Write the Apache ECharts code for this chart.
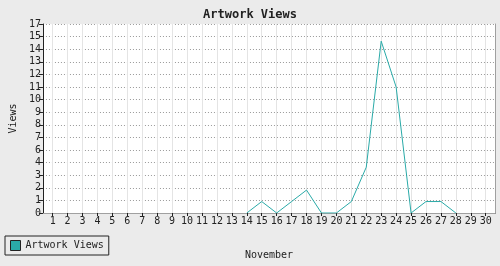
<!DOCTYPE html>
<html>
<head>
<meta charset="utf-8">
<script src="https://cdn.jsdelivr.net/npm/echarts@6/dist/echarts.min.js"></script>
<style>html,body{margin:0;padding:0;background:#ebebeb;}#c{width:500px;height:266px;}</style>
</head>
<body>
<div id="c"></div>
<script>
var days = [1,2,3,4,5,6,7,8,9,10,11,12,13,14,15,16,17,18,19,20,21,22,23,24,25,26,27,28,29,30];
var views = [null,null,null,null,null,null,null,null,null,null,null,null,null,0,1,0,1,2,0,0,1,4,15,11,0,1,1,0,null,null];
var yTickLabels = ['0','1','2','3','4','6','7','8','9','10','11','12','13','14','15','17'];
var seriesName = 'Artwork Views';
var titleText = 'Artwork Views';
var xName = 'November';
var yName = 'Views';

var mono = 'DejaVu Sans Mono';
var data = days.map(function(d, i){ return [d, views[i]]; });
var chart = echarts.init(document.getElementById('c'), null, {renderer:'canvas'});
chart.setOption({
  animation: false,
  backgroundColor: '#ebebeb',
  title: {text: titleText, left: 'center', top: 4, textStyle: {fontFamily: mono, fontSize: 12, fontWeight: 'bold', color: '#222'}},
  grid: {left: 34, right: 5, top: 24, bottom: 53, show: true, backgroundColor: '#ffffff', borderWidth: 0},
  legend: {
    left: 5, top: 236, orient: 'horizontal', padding: [4,5], itemWidth: 10, itemHeight: 10, itemGap: 5,
    borderColor: '#222', borderWidth: 1, icon: 'rect',
    itemStyle: {color: '#2aaaa8', borderColor: '#222', borderWidth: 1},
    textStyle: {fontFamily: mono, fontSize: 10, color: '#222'},
    data: [seriesName]
  },
  xAxis: [{
    type: 'value', min: 0.35, max: 30.62,
    name: xName, nameLocation: 'middle', nameGap: 37,
    nameTextStyle: {fontFamily: mono, fontSize: 10, color: '#222'},
    axisLine: {lineStyle: {color: '#222', width: 1}},
    axisTick: {customValues: days, length: 3, lineStyle: {color: '#222'}},
    axisLabel: {customValues: days, margin: 3, fontFamily: mono, fontSize: 10, color: '#222'},
    splitLine: {show: true, lineStyle: {color: '#e4e4e4', width: 1}}
  }, {
    type: 'value', min: 0, max: 1, position: 'top',
    axisLine: {show: true, lineStyle: {color: '#a0a0a0', width: 1}},
    axisTick: {show: false}, axisLabel: {show: false}, splitLine: {show: false}
  }],
  yAxis: [{
    type: 'value', min: 0, max: 16.5, interval: 1.1,
    name: yName, nameLocation: 'middle', nameGap: 21, nameRotate: 90,
    nameTextStyle: {fontFamily: mono, fontSize: 10, color: '#222'},
    axisLine: {show: true, lineStyle: {color: '#222', width: 1}},
    axisTick: {show: true, length: 4, lineStyle: {color: '#222'}},
    axisLabel: {margin: 2, fontFamily: mono, fontSize: 10, color: '#222',
      formatter: function(v){ return yTickLabels[Math.round(v / 1.1)]; }},
    splitLine: {show: true, lineStyle: {color: '#999', width: 1, type: [1,2]}}
  }, {
    type: 'value', min: 0, max: 1, position: 'right',
    axisLine: {show: true, lineStyle: {color: '#a0a0a0', width: 1}},
    axisTick: {show: false}, axisLabel: {show: false}, splitLine: {show: false}
  }],
  series: [{
    name: seriesName, type: 'line', data: data, showSymbol: false, symbol: 'none',
    connectNulls: false, xAxisIndex: 0, yAxisIndex: 0,
    lineStyle: {color: '#2aaaa8', width: 1}, itemStyle: {color: '#2aaaa8'}
  }]
});
</script>
</body>
</html>
